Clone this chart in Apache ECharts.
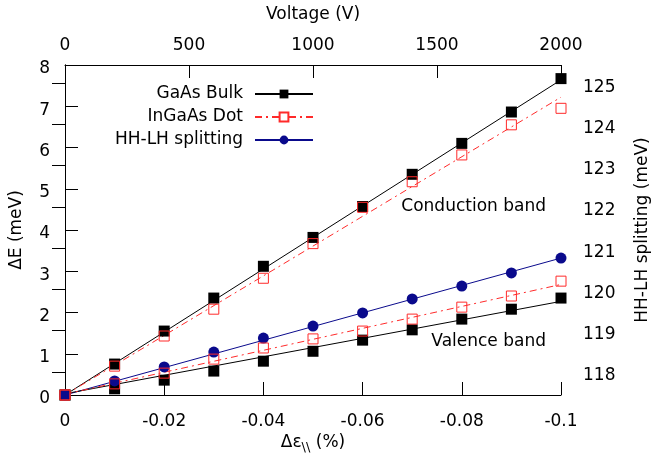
<!DOCTYPE html>
<html><head><meta charset="utf-8">
<script src="https://cdn.jsdelivr.net/npm/echarts@6/dist/echarts.min.js"></script>
<style>html,body{margin:0;padding:0;background:#fff}#c{width:660px;height:459px}</style>
</head><body><div id="c"></div>
<script>
// strain values (%)
const strain = [0, -0.01, -0.02, -0.03, -0.04, -0.05, -0.06, -0.07, -0.08, -0.09, -0.1];
// Conduction band shifts (meV)
const gaasCond   = [0, 0.75, 1.55, 2.35, 3.12, 3.82, 4.57, 5.35, 6.10, 6.86, 7.67];
const ingaasCond = [0, 0.70, 1.43, 2.08, 2.83, 3.67, 4.55, 5.17, 5.82, 6.55, 6.95];
// Valence band shifts (meV)
const gaasVal    = [0, 0.15, 0.36, 0.58, 0.82, 1.06, 1.33, 1.58, 1.84, 2.08, 2.35];
const ingaasVal  = [0, 0.27, 0.53, 0.87, 1.14, 1.36, 1.55, 1.84, 2.13, 2.40, 2.76];
// HH-LH splitting (meV)
const hhlh = [117.44, 117.78, 118.12, 118.48, 118.82, 119.11, 119.43, 119.77, 120.08, 120.40, 120.76];
// linear fits (end points)
const fitX = [0, -0.1];
const gaasCondFit   = [0, 7.64];
const ingaasCondFit = [0, 7.22];
const gaasValFit    = [0.03, 2.27];
const ingaasValFit  = [0.02, 2.68];
const hhlhFit       = [117.44, 120.76];
// tick labels
const rightTicks = [118, 119, 120, 121, 122, 123, 124, 125];

const FONT = 'DejaVu Sans';
const FS = 17;
const zip = (xs, ys) => xs.map((x, i) => [x, ys[i]]);
const axisCommon = {
  axisLine: {show: true, lineStyle: {color: '#000', width: 1}},
  axisTick: {show: true, inside: true, length: 13, lineStyle: {color: '#000', width: 1}},
  splitLine: {show: false},
  nameMoveOverlap: false,
  axisLabel: {color: '#000', fontFamily: FONT, fontSize: FS},
  nameTextStyle: {color: '#000', fontFamily: FONT, fontSize: FS}
};
const yLabelRich = {p: {fontFamily: FONT, fontSize: FS, color: '#000', padding: [8, 0, 0, 0]}};
const RED = '#ff2a2a', BLUE = '#0a0a8c';

const chart = echarts.init(document.getElementById('c'), null, {renderer: 'canvas'});
chart.setOption({
  backgroundColor: '#fff',
  animation: false,
  grid: {left: 65, right: 99, top: 65, bottom: 64, containLabel: false, outerBoundsMode: 'none'},
  xAxis: [
    Object.assign({}, axisCommon, {
      type: 'value', position: 'bottom', min: -0.1, max: 0, interval: 0.02, inverse: true,
      name: '{a|Δε}{s|\\\\}{a| (%)}', nameLocation: 'middle', nameGap: 37,
      nameTextStyle: {color: '#000', fontFamily: FONT, fontSize: FS,
        rich: {a: {fontFamily: FONT, fontSize: FS, color: '#000'},
               s: {fontFamily: FONT, fontSize: 13, color: '#000', padding: [9, 0, 0, 0]}}},
      axisLabel: {color: '#000', fontFamily: FONT, fontSize: FS, margin: 18,
        formatter: v => String(parseFloat(v.toFixed(4)))}
    }),
    Object.assign({}, axisCommon, {
      type: 'value', position: 'top', min: 0, max: 2000, interval: 500,
      name: 'Voltage (V)', nameLocation: 'middle', nameGap: 42,
      axisLabel: {color: '#000', fontFamily: FONT, fontSize: FS, margin: 11, formatter: v => String(v)}
    })
  ],
  yAxis: [
    Object.assign({}, axisCommon, {
      type: 'value', position: 'left', min: 0, max: 8, interval: 1,
      name: 'ΔE (meV)', nameLocation: 'middle', nameGap: 40,
      axisLabel: {color: '#000', fontFamily: FONT, fontSize: FS, margin: 15,
        formatter: v => '{p|' + v + '}', rich: yLabelRich}
    }),
    Object.assign({}, axisCommon, {
      type: 'value', position: 'right', min: 117.44, max: 125.44,
      name: 'HH-LH splitting (meV)', nameLocation: 'middle', nameGap: 73,
      axisTick: {show: true, inside: true, length: 13, customValues: rightTicks, lineStyle: {color: '#000', width: 1}},
      axisLabel: {color: '#000', fontFamily: FONT, fontSize: FS, margin: 22, customValues: rightTicks,
        formatter: v => '{p|' + v + '}', rich: yLabelRich}
    })
  ],
  legend: {
    data: ['GaAs Bulk', 'InGaAs Dot', 'HH-LH splitting'],
    orient: 'vertical', align: 'right', right: 341, top: 79,
    itemWidth: 58, itemHeight: 11, itemGap: 3,
    textStyle: {color: '#000', fontFamily: FONT, fontSize: FS, lineHeight: 20, padding: [0, 7, 0, 0]},
    selectedMode: false
  },
  series: [
    {name: 'GaAs Bulk', type: 'line', data: zip(fitX, gaasCondFit), symbol: 'rect', showSymbol: false,
     lineStyle: {color: '#000', width: 1}, itemStyle: {color: '#000'}, silent: true},
    {name: 'InGaAs Dot', type: 'line', data: zip(fitX, ingaasCondFit), symbol: 'emptyRect', showSymbol: false,
     lineStyle: {color: RED, width: 1, type: [7, 4, 2, 4]}, itemStyle: {color: RED}, silent: true},
    {name: 'HH-LH splitting', type: 'line', yAxisIndex: 1, data: zip(fitX, hhlhFit), symbol: 'circle', showSymbol: false,
     lineStyle: {color: BLUE, width: 1}, itemStyle: {color: BLUE}, silent: true},
    {name: 'GaAs Bulk', type: 'line', data: zip(fitX, gaasValFit), symbol: 'rect', showSymbol: false,
     lineStyle: {color: '#000', width: 1}, itemStyle: {color: '#000'}, silent: true},
    {name: 'InGaAs Dot', type: 'line', data: zip(fitX, ingaasValFit), symbol: 'emptyRect', showSymbol: false,
     lineStyle: {color: RED, width: 1, type: [7, 4, 2, 4]}, itemStyle: {color: RED}, silent: true},
    {name: 'GaAs Bulk', type: 'scatter', data: zip(strain, gaasCond), symbol: 'rect', symbolSize: 11,
     itemStyle: {color: '#000', opacity: 1}, z: 3},
    {name: 'GaAs Bulk', type: 'scatter', data: zip(strain, gaasVal), symbol: 'rect', symbolSize: 11,
     itemStyle: {color: '#000', opacity: 1}, z: 3},
    {name: 'InGaAs Dot', type: 'scatter', data: zip(strain, ingaasCond), symbol: 'rect', symbolSize: 10,
     itemStyle: {color: 'rgba(0,0,0,0)', borderColor: RED, borderWidth: 1, opacity: 1}, z: 4},
    {name: 'InGaAs Dot', type: 'scatter', data: zip(strain, ingaasVal), symbol: 'rect', symbolSize: 10,
     itemStyle: {color: 'rgba(0,0,0,0)', borderColor: RED, borderWidth: 1, opacity: 1}, z: 4},
    {name: 'HH-LH splitting', type: 'scatter', yAxisIndex: 1, data: zip(strain, hhlh), symbol: 'circle', symbolSize: 11,
     itemStyle: {color: BLUE, opacity: 1}, z: 3}
  ],
  graphic: [
    {type: 'text', right: 660 - 546, top: 198, style: {text: 'Conduction band', fill: '#000', font: FS + 'px "DejaVu Sans"'}},
    {type: 'text', right: 660 - 546, top: 333, style: {text: 'Valence band', fill: '#000', font: FS + 'px "DejaVu Sans"'}}
  ]
});
</script></body></html>
